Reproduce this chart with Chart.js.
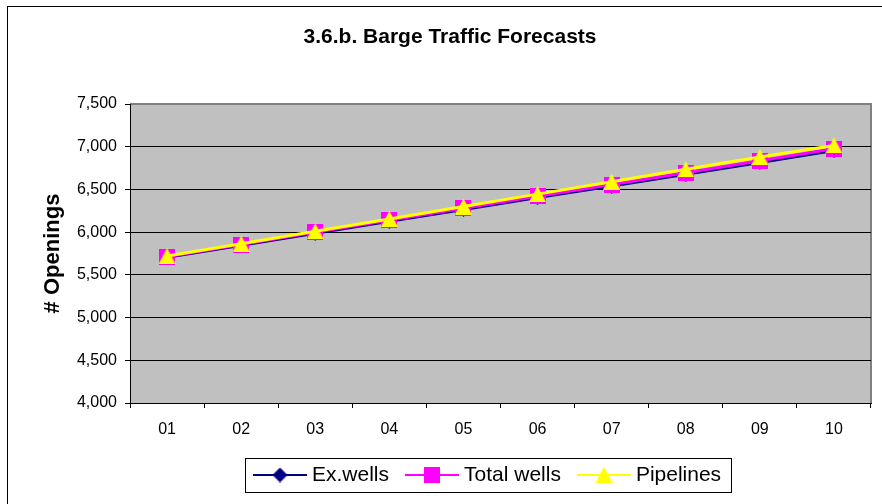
<!DOCTYPE html>
<html>
<head>
<meta charset="utf-8">
<title>Barge Traffic Forecasts</title>
<script src="https://cdn.jsdelivr.net/npm/chart.js@4.4.1/dist/chart.umd.min.js"></script>
<style>
  html, body { margin: 0; padding: 0; background: #fff; }
  #wrap { width: 882px; height: 504px; position: relative; }
</style>
</head>
<body>
<div id="wrap"><canvas id="chart"></canvas></div>
<script>
const years = ['01', '02', '03', '04', '05', '06', '07', '08', '09', '10'];
const exWells = [5705, 5846, 5988, 6128, 6266, 6405, 6540, 6677, 6816, 6955];
const totalWells = [5712, 5855, 5998, 6140, 6280, 6420, 6557, 6695, 6835, 6975];
const pipelines = [5720, 5865, 6010, 6155, 6300, 6445, 6590, 6735, 6880, 7015];

const FONT = '"Liberation Sans", Arial, sans-serif';
const TITLE = '3.6.b. Barge Traffic Forecasts';

// small marker bitmaps, centred on their bounding box like the office markers
function marker(w, h, color, path) {
  const c = document.createElement('canvas');
  c.width = w;
  c.height = h;
  const g = c.getContext('2d');
  g.fillStyle = color;
  g.beginPath();
  path.forEach(([px, py], i) => (i ? g.lineTo(px, py) : g.moveTo(px, py)));
  g.closePath();
  g.fill();
  return c;
}
const diamond = marker(15, 15, '#000080', [[7.5, 0], [15, 7.5], [7.5, 15], [0, 7.5]]);
const square = marker(16, 16, '#ff00ff', [[0, 0], [16, 0], [16, 16], [0, 16]]);
const triangle = marker(17, 16, '#ffff00', [[8.5, 0], [17, 16], [0, 16]]);

// plot background, outer frame, title and the line-style legend
const framePlugin = {
  id: 'frame',
  beforeDraw(chart) {
    const { ctx, chartArea: a } = chart;
    ctx.save();
    ctx.strokeStyle = '#000';
    ctx.lineWidth = 1;
    ctx.strokeRect(7.5, 6.5, chart.width, chart.height);

    ctx.fillStyle = '#c0c0c0';
    ctx.fillRect(a.left, a.top, a.right - a.left, a.bottom - a.top);
    ctx.strokeStyle = '#808080';
    ctx.lineWidth = 2;
    ctx.beginPath();
    ctx.moveTo(a.left, a.top);
    ctx.lineTo(a.right, a.top);
    ctx.lineTo(a.right, a.bottom);
    ctx.stroke();

    ctx.fillStyle = '#000';
    ctx.font = 'bold 21px ' + FONT;
    ctx.textAlign = 'center';
    ctx.textBaseline = 'middle';
    ctx.fillText(TITLE, 450, 37);
    ctx.restore();
  },
  afterDraw(chart) {
    const { ctx } = chart;
    const sets = chart.data.datasets;
    const lineLen = 54, gap = 5, itemGap = 16, padL = 8, padR = 10;
    const cx = 488, cy = 475, h = 34;

    ctx.save();
    ctx.font = '21px ' + FONT;
    const widths = sets.map(d => ctx.measureText(d.label).width);
    const total = padL + padR + widths.reduce((s, w) => s + lineLen + gap + w, 0) + itemGap * (sets.length - 1);
    let x = Math.round(cx - total / 2);

    ctx.strokeStyle = '#000';
    ctx.lineWidth = 1;
    ctx.strokeRect(x + 0.5, Math.round(cy - h / 2) + 0.5, Math.round(total), h);

    x += padL;
    sets.forEach((d, i) => {
      ctx.strokeStyle = d.borderColor;
      ctx.lineWidth = 2;
      ctx.beginPath();
      ctx.moveTo(x, cy);
      ctx.lineTo(x + lineLen, cy);
      ctx.stroke();

      Chart.helpers.drawPoint(ctx, { pointStyle: d.pointStyle, radius: 8, borderWidth: 0 }, Math.round(x + lineLen / 2), cy);

      ctx.fillStyle = '#000';
      ctx.textAlign = 'left';
      ctx.textBaseline = 'middle';
      ctx.fillText(d.label, x + lineLen + gap, cy);
      x += lineLen + gap + widths[i] + itemGap;
    });
    ctx.restore();
  }
};

new Chart(document.getElementById('chart'), {
  type: 'line',
  data: {
    labels: years,
    datasets: [
      {
        label: 'Ex.wells',
        data: exWells,
        borderColor: '#000080',
        backgroundColor: '#000080',
        borderWidth: 3,
        pointStyle: diamond,
        order: 2,
      },
      {
        label: 'Total wells',
        data: totalWells,
        borderColor: '#ff00ff',
        backgroundColor: '#ff00ff',
        borderWidth: 3,
        pointStyle: square,
        order: 1,
      },
      {
        label: 'Pipelines',
        data: pipelines,
        borderColor: '#ffff00',
        backgroundColor: '#ffff00',
        borderWidth: 3,
        pointStyle: triangle,
        order: 0,
      },
    ],
  },
  plugins: [framePlugin],
  options: {
    responsive: true,
    maintainAspectRatio: false,
    animation: false,
    layout: { padding: { top: 104, right: 10, bottom: 61, left: 0 } },
    elements: {
      line: { tension: 0 },
      point: { radius: 8, hoverRadius: 8, borderWidth: 0 },
    },
    scales: {
      x: {
        type: 'category',
        offset: true,
        afterFit(scale) { scale.height = 40; },
        grid: {
          offset: true,
          drawOnChartArea: false,
          tickLength: 5,
          color: '#000',
        },
        border: { color: '#000', width: 1 },
        ticks: {
          color: '#000',
          padding: 12,
          maxRotation: 0,
          font: { family: FONT, size: 16 },
        },
      },
      y: {
        min: 4000,
        max: 7500,
        afterFit(scale) { scale.width = 130; },
        grid: {
          tickLength: 5,
          tickColor: '#000',
          // top line is the plot frame, drawn in grey
          color: (c) => (c.tick && c.tick.value === 7500 ? 'rgba(0,0,0,0)' : '#000'),
        },
        border: { color: '#000', width: 1 },
        ticks: {
          stepSize: 500,
          color: '#000',
          padding: 8,
          font: { family: FONT, size: 16 },
          callback: (v) => v.toLocaleString('en-US'),
        },
        title: {
          display: true,
          text: '# Openings',
          color: '#000',
          padding: { top: 40, bottom: 0 },
          font: { family: FONT, size: 22, weight: 'bold' },
        },
      },
    },
    plugins: {
      legend: { display: false },
      title: { display: false },
      tooltip: { enabled: false },
    },
  },
});
</script>
</body>
</html>
